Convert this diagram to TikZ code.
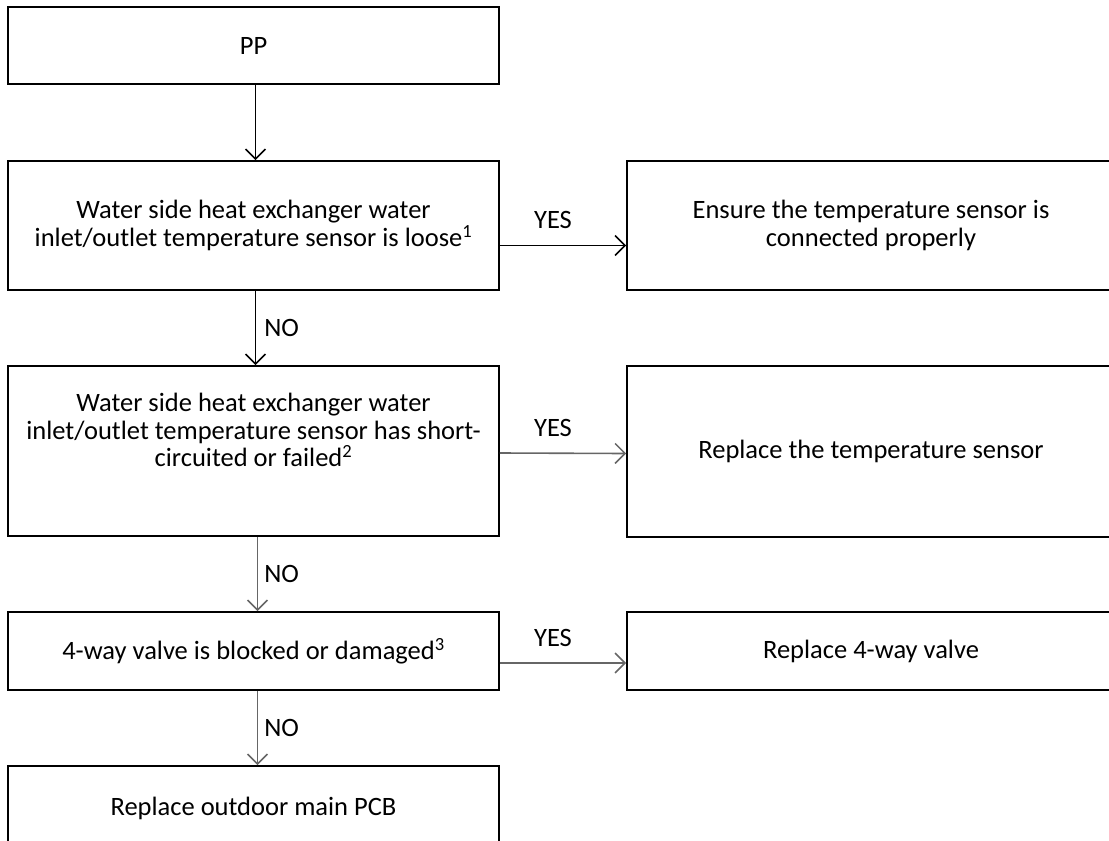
\documentclass[tikz,border=0pt]{standalone}
\usepackage{fontspec}
\setmainfont{Carlito}
\usetikzlibrary{arrows.meta}
\tikzset{
  box/.style={draw=black, line width=1.8pt, rectangle, align=center, inner sep=0pt,
    font=\fontsize{26.5}{27.5}\selectfont},
  lbox/.style={box, minimum width=491pt},
  rbox/.style={box, minimum width=488pt},
  arr/.style={draw=black, line width=1.6pt, -{Straight Barb[length=10pt,width=20pt,line width=1.5pt]}},
  garr/.style={arr, draw=black!60},
  lbl/.style={font=\fontsize{26.5}{27.5}\selectfont, inner sep=0pt}
}
\begin{document}
\begin{tikzpicture}[x=1pt,y=-1pt]
\useasboundingbox (0,0) rectangle (1109,841);
\clip (0,0) rectangle (1109,841);
\fill[white] (0,0) rectangle (1109,841);
% left column
\node[lbox, minimum height=77pt] (pp) at (253.5,45.5) {PP};
\node[lbox, minimum height=129pt] (b2) at (253.5,225.5) {Water side heat exchanger water\\inlet/outlet temperature sensor is loose\textsuperscript{1}};
\node[lbox, minimum height=170pt] (b3) at (253.5,451) {Water side heat exchanger water\\inlet/outlet temperature sensor has short-\\circuited or failed\textsuperscript{2}\\[14pt]};
\node[lbox, minimum height=78pt] (b4) at (253.5,651) {4-way valve is blocked or damaged\textsuperscript{3}};
\node[lbox, minimum height=84pt] (b5) at (253.5,808) {Replace outdoor main PCB};
% right column
\node[rbox, minimum height=129pt] (r1) at (871,225.5) {Ensure the temperature sensor is\\connected properly};
\node[rbox, minimum height=171pt] (r2) at (871,451.5) {Replace the temperature sensor};
\node[rbox, minimum height=78pt] (r3) at (871,651) {Replace 4-way valve};
% vertical arrows
\draw[arr] ([xshift=2pt]pp.south) -- ([xshift=2pt]b2.north);
\draw[arr] ([xshift=2pt]b2.south) -- node[lbl, anchor=west, xshift=8pt]{NO} ([xshift=2pt]b3.north);
\draw[garr] ([xshift=4pt]b3.south) -- node[lbl, anchor=west, xshift=6pt]{NO} ([xshift=4pt]b4.north);
\draw[garr] ([xshift=4pt]b4.south) -- node[lbl, anchor=west, xshift=6pt]{NO} ([xshift=4pt]b5.north);
% horizontal arrows
\draw[arr] ([yshift=-20pt]b2.east) -- node[lbl, above=16pt, xshift=-10pt]{YES} ([yshift=-20pt]r1.west);
\draw[garr] ([yshift=-2pt]b3.east) -- node[lbl, above=16pt, xshift=-10pt]{YES} ([yshift=-2pt]r2.west);
\draw[garr] ([yshift=-12pt]b4.east) -- node[lbl, above=16pt, xshift=-10pt]{YES} ([yshift=-12pt]r3.west);
\end{tikzpicture}
\end{document}
